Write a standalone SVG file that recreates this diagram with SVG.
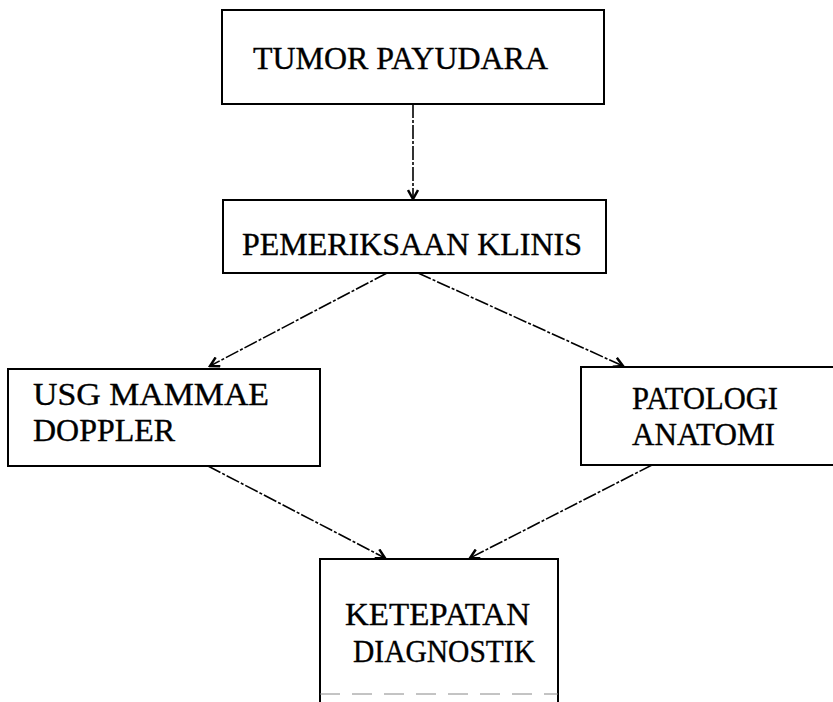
<svg xmlns="http://www.w3.org/2000/svg" width="833" height="702" viewBox="0 0 833 702">
<defs>
<style>
.box{fill:#fff;stroke:#000;stroke-width:2}
.lbl{font-family:"Liberation Serif","DejaVu Serif","Times New Roman",serif;font-size:31px;fill:#000;stroke:#000;stroke-width:0.35}
.con{fill:none;stroke:#000;stroke-width:1.6;stroke-dasharray:14 2 3 2}
</style>
<marker id="ah" viewBox="0 0 12 12" refX="10" refY="6" markerWidth="12" markerHeight="12" markerUnits="userSpaceOnUse" orient="auto">
<path d="M1,1 L10,6 L1,11" fill="none" stroke="#000" stroke-width="2.5"/>
</marker>
</defs>
<rect width="833" height="702" fill="#fff"/>
<g id="connectors">
<line class="con" x1="413" y1="104" x2="413" y2="199" marker-end="url(#ah)"/>
<line class="con" x1="387" y1="273" x2="210" y2="366" marker-end="url(#ah)"/>
<line class="con" x1="418" y1="273" x2="623" y2="366" marker-end="url(#ah)"/>
<line class="con" x1="208" y1="466" x2="385" y2="558" marker-end="url(#ah)"/>
<line class="con" x1="652" y1="465" x2="470" y2="558" marker-end="url(#ah)"/>
</g>
<g id="tumor">
<rect class="box" x="222" y="10" width="382" height="94"/>
<text class="lbl" x="253" y="69" textLength="295" lengthAdjust="spacingAndGlyphs">TUMOR PAYUDARA</text>
</g>
<g id="klinis">
<rect class="box" x="223" y="200" width="383" height="73"/>
<text class="lbl" x="242" y="255" textLength="340" lengthAdjust="spacingAndGlyphs">PEMERIKSAAN KLINIS</text>
</g>
<g id="usg">
<rect class="box" x="8" y="369" width="312" height="97"/>
<text class="lbl" x="33" y="405" textLength="236" lengthAdjust="spacingAndGlyphs">USG MAMMAE</text>
<text class="lbl" x="33" y="441" textLength="142" lengthAdjust="spacingAndGlyphs">DOPPLER</text>
</g>
<g id="patologi">
<rect class="box" x="581" y="367" width="270" height="98"/>
<text class="lbl" x="632" y="409" textLength="146" lengthAdjust="spacingAndGlyphs">PATOLOGI</text>
<text class="lbl" x="632" y="445" textLength="143" lengthAdjust="spacingAndGlyphs">ANATOMI</text>
</g>
<g id="ketepatan">
<path d="M320,704 V559 H558 V704" fill="#fff" stroke="#000" stroke-width="2"/>
<line x1="320" y1="694" x2="558" y2="694" stroke="#888" stroke-width="1" stroke-dasharray="20 12"/>
<text class="lbl" x="345" y="625" textLength="185" lengthAdjust="spacingAndGlyphs">KETEPATAN</text>
<text class="lbl" x="353" y="662" textLength="182" lengthAdjust="spacingAndGlyphs">DIAGNOSTIK</text>
</g>
</svg>
